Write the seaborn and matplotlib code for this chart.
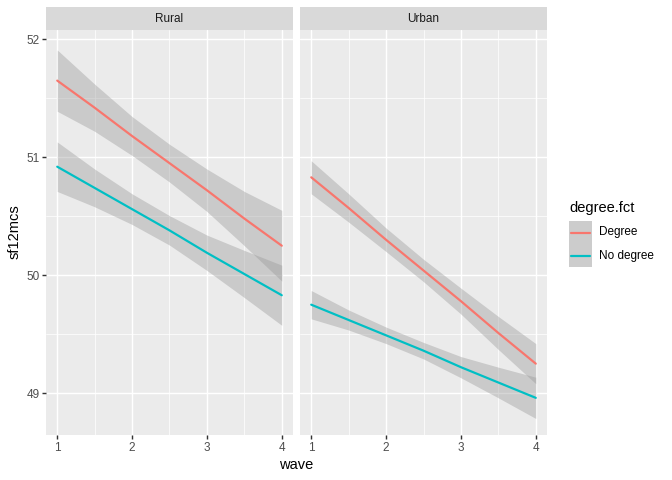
import matplotlib
matplotlib.use("Agg")
import matplotlib.pyplot as plt
from matplotlib.patches import Rectangle
from matplotlib.lines import Line2D
import seaborn as sns
import pandas as pd

sns.set_style("white")
plt.rcParams['font.family'] = ['Liberation Sans', 'DejaVu Sans']

# ---- data ----
waves = [1, 1.5, 2, 2.5, 3, 3.5, 4]
areas = ["Rural", "Urban"]
groups = ["Degree", "No degree"]

rural_degree_fit = [51.65, 51.42, 51.18, 50.95, 50.72, 50.48, 50.25]
rural_degree_lo = [51.39, 51.22, 51.015, 50.79, 50.54, 50.25, 49.95]
rural_degree_hi = [51.91, 51.62, 51.345, 51.11, 50.90, 50.71, 50.55]

rural_nodeg_fit = [50.92, 50.74, 50.56, 50.38, 50.19, 50.01, 49.83]
rural_nodeg_lo = [50.71, 50.58, 50.43, 50.255, 50.04, 49.81, 49.575]
rural_nodeg_hi = [51.13, 50.90, 50.69, 50.505, 50.34, 50.21, 50.085]

urban_degree_fit = [50.83, 50.57, 50.30, 50.04, 49.78, 49.51, 49.25]
urban_degree_lo = [50.69, 50.45, 50.20, 49.945, 49.67, 49.37, 49.08]
urban_degree_hi = [50.97, 50.69, 50.40, 50.135, 49.89, 49.65, 49.42]

urban_nodeg_fit = [49.75, 49.62, 49.49, 49.36, 49.22, 49.09, 48.96]
urban_nodeg_lo = [49.63, 49.535, 49.42, 49.29, 49.13, 48.96, 48.785]
urban_nodeg_hi = [49.87, 49.705, 49.56, 49.43, 49.31, 49.22, 49.135]

x_ticks = [1, 2, 3, 4]
y_ticks = [49, 50, 51, 52]

series = {
    ("Rural", "Degree"): (rural_degree_fit, rural_degree_lo, rural_degree_hi),
    ("Rural", "No degree"): (rural_nodeg_fit, rural_nodeg_lo, rural_nodeg_hi),
    ("Urban", "Degree"): (urban_degree_fit, urban_degree_lo, urban_degree_hi),
    ("Urban", "No degree"): (urban_nodeg_fit, urban_nodeg_lo, urban_nodeg_hi),
}
rows = []
for (area, grp), (fit, lo, hi) in series.items():
    for w, f, l, h in zip(waves, fit, lo, hi):
        rows.append({"wave": w, "sf12mcs": f, "lo": l, "hi": h,
                     "area": area, "degree.fct": grp})
df = pd.DataFrame(rows)

palette = {"Degree": "#F8766D", "No degree": "#00BFC4"}
LW = 1.65

W, H = 672, 480
fig = plt.figure(figsize=(7, 5), dpi=96)

panel_bottom = 435
panel_top = 30
strip_top = 7
panels = [(46, 293), (300, 547)]

for i, (area, (x0, x1)) in enumerate(zip(areas, panels)):
    ax = fig.add_axes([x0 / W, 1 - panel_bottom / H, (x1 - x0) / W,
                       (panel_bottom - panel_top) / H])
    ax.set_facecolor("#EBEBEB")
    for s in ax.spines.values():
        s.set_visible(False)
    sub = df[df["area"] == area]
    for grp in groups:
        g = sub[sub["degree.fct"] == grp]
        ax.fill_between(g["wave"], g["lo"], g["hi"], color="#999999",
                        alpha=0.4, linewidth=0, zorder=2)
    sns.lineplot(data=sub, x="wave", y="sf12mcs", hue="degree.fct",
                 palette=palette, ax=ax, legend=False, linewidth=LW,
                 zorder=3, estimator=None, sort=True)
    ax.set_xlim(0.85, 4.15)
    ax.set_ylim(48.645, 52.079)
    ax.set_xticks(x_ticks)
    ax.set_xticks([1.5, 2.5, 3.5], minor=True)
    ax.set_yticks(y_ticks)
    ax.set_yticks([49.5, 50.5, 51.5], minor=True)
    ax.grid(which="major", color="white", linewidth=1.07, zorder=1)
    ax.grid(which="minor", color="white", linewidth=0.53, zorder=1)
    ax.set_axisbelow(True)
    ax.tick_params(which="major", length=2.75, width=1.07, color="#333333",
                   labelsize=8.8, labelcolor="#4D4D4D", pad=2.2,
                   bottom=True, left=(i == 0))
    ax.tick_params(which="minor", length=0)
    ax.set_xticklabels([str(t) for t in x_ticks])
    if i == 0:
        ax.set_yticklabels([str(t) for t in y_ticks])
    else:
        ax.set_yticklabels([])
    ax.set_xlabel("")
    ax.set_ylabel("")
    # strip
    sax = fig.add_axes([x0 / W, 1 - panel_top / H, (x1 - x0) / W,
                        (panel_top - strip_top) / H])
    sax.set_facecolor("#D9D9D9")
    for s in sax.spines.values():
        s.set_visible(False)
    sax.set_xticks([])
    sax.set_yticks([])
    sax.text(0.5, 0.5, area, ha="center", va="center", fontsize=8.8,
             color="#1A1A1A", transform=sax.transAxes)

# axis titles
fig.text((46 + 547) / 2 / W, 1 - 465 / H, "wave", ha="center", va="center",
         fontsize=11, color="black")
fig.text(15 / W, 1 - 232 / H, "sf12mcs", ha="center", va="center",
         fontsize=11, rotation=90, color="black")

# legend
fig.text(569 / W, 1 - 208 / H, "degree.fct", ha="left", va="center",
         fontsize=11, color="black")
key_x0, key_x1 = 569, 592
key_tops = [221, 244]
for grp, kt in zip(groups, key_tops):
    fig.patches.append(Rectangle((key_x0 / W, 1 - (kt + 23) / H),
                                 (key_x1 - key_x0) / W, 23 / H,
                                 transform=fig.transFigure,
                                 facecolor="#CCCCCC", edgecolor="none"))
    yc = 1 - (kt + 11.5) / H
    fig.lines.append(Line2D([(key_x0 + 2) / W, (key_x1 - 2) / W], [yc, yc],
                            transform=fig.transFigure, color=palette[grp],
                            linewidth=LW))
    fig.text(599 / W, yc, grp, ha="left", va="center", fontsize=8.8,
             color="black")

fig.savefig("out.png", dpi=96, facecolor="white")
